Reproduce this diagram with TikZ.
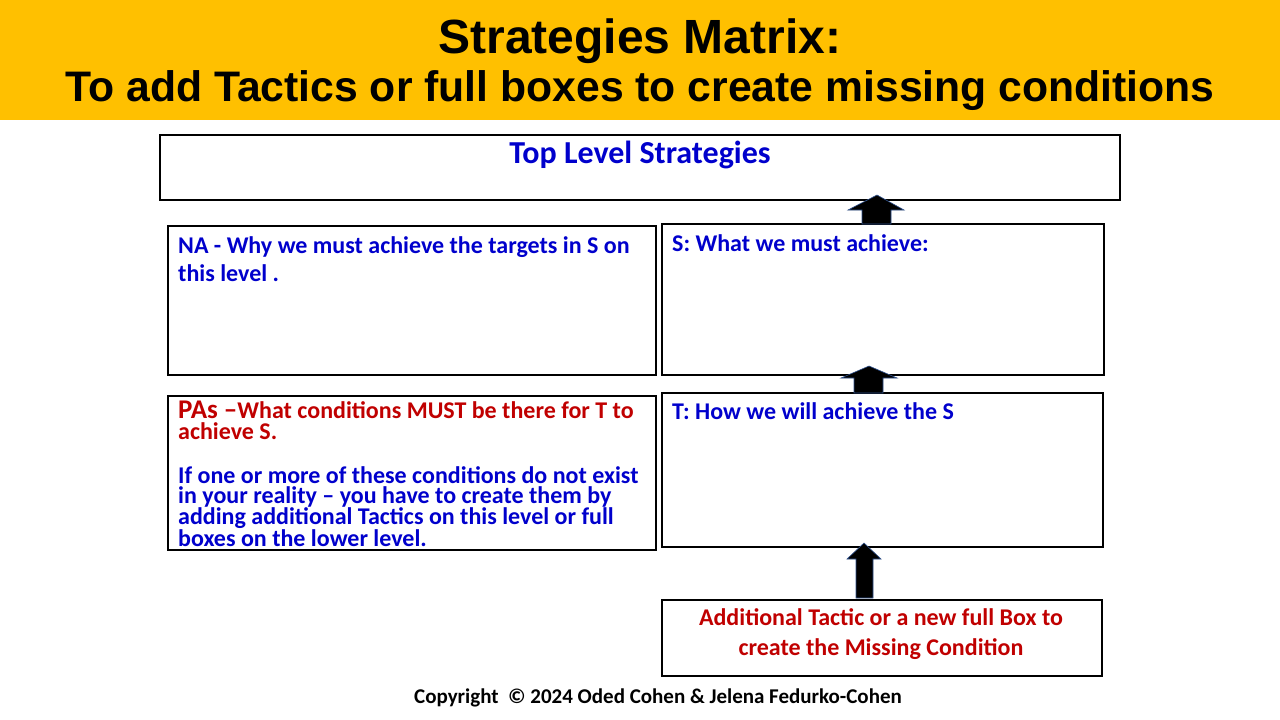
\documentclass[tikz,border=0pt]{standalone}
\usepackage{fontspec}
\setmainfont{Carlito}
\newfontfamily\titlefont{Liberation Sans}
\definecolor{banner}{HTML}{FFC000}
\definecolor{tblue}{HTML}{0000CC}
\definecolor{tred}{HTML}{C00000}
\definecolor{aedge}{HTML}{2F528F}
\begin{document}
\begin{tikzpicture}[x=1pt,y=-1pt,
  box/.style={draw=black,line width=1.5pt},
  ln/.style={anchor=base west,inner sep=0pt,font=\bfseries\fontsize{24}{28}\selectfont,text=tblue},
  para/.style={anchor=north west,inner sep=0pt,align=left,font=\bfseries\fontsize{24}{20}\selectfont,text=tblue},
  blockarrow/.style={fill=black,draw=aedge,line width=0.6pt,line join=miter}]
\useasboundingbox (0,0) rectangle (1280,720);
\fill[banner] (0,0) rectangle (1280,120);
\node[anchor=base,inner sep=0pt,font=\titlefont\bfseries\fontsize{48}{52}\selectfont] (title1) at (640,53) {Strategies Matrix:};
\node[anchor=base,inner sep=0pt,font=\titlefont\bfseries\fontsize{42.7}{52}\selectfont] (title2) at (640,101) {To add Tactics or full boxes to create missing conditions};
% boxes
\draw[box] (160,135) rectangle (1120,200);
\node[anchor=base,inner sep=0pt,font=\bfseries\fontsize{32}{34}\selectfont,text=tblue] (top) at (640,163) {Top Level Strategies};
\draw[box] (168,226) rectangle (656,375);
\node[ln] (na1) at (178,253) {NA - Why we must achieve the targets in S on};
\node[ln] (na2) at (178,281) {this level .};
\draw[box] (662,224) rectangle (1104,375);
\node[ln] (s) at (672,251) {S: What we must achieve:};
\draw[box] (168,396) rectangle (656,550);
\node[para,text=tred,font=\bfseries\fontsize{24}{21}\selectfont] (pared) at (178,401)
  {{\fontsize{27}{21}\selectfont PAs –}What conditions MUST be there for T to\\achieve S.};
\node[para] (pablue) at (178,466)
  {If one or more of these conditions do not exist\\in your reality – you have to create them by\\adding additional Tactics on this level or full\\boxes on the lower level.};
\draw[box] (662,393) rectangle (1103,547);
\node[ln] (t) at (672,419) {T: How we will achieve the S};
\draw[box] (662,600) rectangle (1102,676);
\node[para,anchor=north,align=center,text=tred,font=\bfseries\fontsize{24}{30}\selectfont] (add) at (881,608)
  {Additional Tactic or a new full Box to\\create the Missing Condition};
% block arrows
\draw[blockarrow] (877,195) -- (904,210) -- (891,210) -- (891,224) -- (862,224) -- (862,210) -- (848,210) -- cycle;
\draw[blockarrow] (869,366) -- (897,378) -- (883,378) -- (883,393) -- (854,393) -- (854,378) -- (841,378) -- cycle;
\draw[blockarrow] (864,543) -- (881,559) -- (873,559) -- (873,598) -- (856,598) -- (856,559) -- (847,559) -- cycle;
\node[anchor=base,inner sep=0pt,font=\bfseries\fontsize{21}{24}\selectfont] (copy) at (658,703)
  {Copyright~ © 2024 Oded Cohen \& Jelena Fedurko-Cohen};
\end{tikzpicture}
\end{document}
